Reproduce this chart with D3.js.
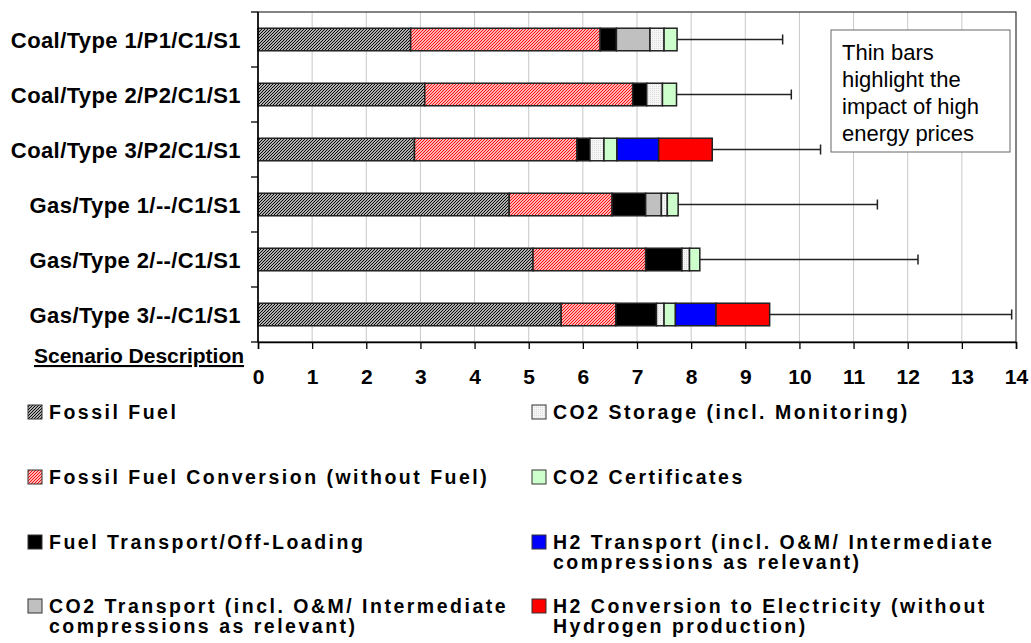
<!DOCTYPE html>
<html>
<head>
<meta charset="utf-8">
<script src="https://cdn.jsdelivr.net/npm/d3@7"></script>
<style>
    body { margin: 0; background: #fff; }
    text { font-family: "Liberation Sans", Arial, sans-serif; }
</style>
</head>
<body>
<script>
/* global d3 */

var width = 1031;
var height = 643;

// scenarios, top to bottom
var categories = ["Coal/Type 1/P1/C1/S1", "Coal/Type 2/P2/C1/S1", "Coal/Type 3/P2/C1/S1",
    "Gas/Type 1/--/C1/S1", "Gas/Type 2/--/C1/S1", "Gas/Type 3/--/C1/S1"];

// cost components
var fossilFuel = [2.82, 3.08, 2.89, 4.64, 5.08, 5.60];
var fuelConversion = [3.50, 3.84, 3.00, 1.90, 2.08, 1.01];
var fuelTransport = [0.30, 0.26, 0.24, 0.62, 0.67, 0.75];
var co2Transport = [0.62, 0, 0, 0.29, 0, 0];
var co2Storage = [0.26, 0.29, 0.26, 0.11, 0.14, 0.14];
var co2Certificates = [0.24, 0.26, 0.24, 0.20, 0.19, 0.21];
var h2Transport = [0, 0, 0.77, 0, 0, 0.75];
var h2Conversion = [0, 0, 0.99, 0, 0, 0.99];

// thin bars: total with high energy prices
var highPriceTotal = [9.69, 9.85, 10.39, 11.44, 12.19, 13.92];

var xTicks = [0, 1, 2, 3, 4, 5, 6, 7, 8, 9, 10, 11, 12, 13, 14];

var seriesKeys = ["fossil", "conv", "ftrans", "co2t", "co2s", "co2c", "h2t", "h2c"];
var seriesValues = [fossilFuel, fuelConversion, fuelTransport, co2Transport,
    co2Storage, co2Certificates, h2Transport, h2Conversion];
var seriesFill = ["url(#pFossil)", "url(#pConv)", "#000000", "#c0c0c0",
    "url(#pStorage)", "#ccffcc", "#0000ff", "#ff0000"];

var legendLabels = [
    ["Fossil Fuel"],
    ["Fossil Fuel Conversion (without Fuel)"],
    ["Fuel Transport/Off-Loading"],
    ["CO2 Transport (incl. O&M/ Intermediate", "compressions as relevant)"],
    ["CO2 Storage (incl. Monitoring)"],
    ["CO2 Certificates"],
    ["H2 Transport (incl. O&M/ Intermediate", "compressions as relevant)"],
    ["H2 Conversion to Electricity (without", "Hydrogen production)"]
];

var noteLines = ["Thin bars", "highlight the", "impact of high", "energy prices"];

var margin = {top: 12, right: 15, bottom: 301, left: 258};
var plotW = width - margin.left - margin.right,
        plotH = height - margin.top - margin.bottom;

var svg = d3.select("body")
        .append("svg")
        .attr("width", width)
        .attr("height", height);

// fill patterns
var defs = svg.append("defs");
var p1 = defs.append("pattern").attr("id", "pFossil")
        .attr("patternUnits", "userSpaceOnUse").attr("width", 3).attr("height", 3);
p1.append("rect").attr("width", 3).attr("height", 3).attr("fill", "#fff");
p1.append("path").attr("d", "M-1,1 l2,-2 M0,3 l3,-3 M2,4 l2,-2")
        .attr("stroke", "#000").attr("stroke-width", 1.2);
var p2 = defs.append("pattern").attr("id", "pConv")
        .attr("patternUnits", "userSpaceOnUse").attr("width", 3).attr("height", 3);
p2.append("rect").attr("width", 3).attr("height", 3).attr("fill", "#fff");
p2.append("path").attr("d", "M-1,1 l2,-2 M0,3 l3,-3 M2,4 l2,-2")
        .attr("stroke", "#ff0000").attr("stroke-width", 1.1);
var p3 = defs.append("pattern").attr("id", "pStorage")
        .attr("patternUnits", "userSpaceOnUse").attr("width", 2).attr("height", 2);
p3.append("rect").attr("width", 2).attr("height", 2).attr("fill", "#f6f6f6");
p3.append("rect").attr("width", 1).attr("height", 1).attr("fill", "#dcdcdc");

var x = d3.scaleLinear().domain([0, 14]).range([0, plotW]);
var y = d3.scaleBand().domain(categories).range([0, plotH])
        .paddingInner(0.59).paddingOuter(0.295);

var table = categories.map(function (c, i) {
    var row = {cat: c};
    seriesKeys.forEach(function (k, j) {
        row[k] = seriesValues[j][i];
    });
    return row;
});
var stacked = d3.stack().keys(seriesKeys)(table);

var g = svg.append("g")
        .attr("transform", "translate(" + margin.left + "," + margin.top + ")");

// vertical grid
g.selectAll(".grid")
        .data(xTicks.slice(1, -1))
        .enter().append("line")
        .attr("x1", function (d) { return x(d); })
        .attr("x2", function (d) { return x(d); })
        .attr("y1", 0)
        .attr("y2", plotH)
        .attr("stroke", "#c8c8c8")
        .attr("stroke-width", 1);

// frame
g.append("rect")
        .attr("width", plotW)
        .attr("height", plotH)
        .attr("fill", "none")
        .attr("stroke", "#333")
        .attr("stroke-width", 1.2);

// error bars (high prices)
var err = g.selectAll(".err")
        .data(categories)
        .enter().append("g");
err.append("line")
        .attr("x1", function (d, i) { return x(d3.sum(seriesValues, function (s) { return s[i]; })); })
        .attr("x2", function (d, i) { return x(highPriceTotal[i]); })
        .attr("y1", function (d) { return y(d) + y.bandwidth() / 2; })
        .attr("y2", function (d) { return y(d) + y.bandwidth() / 2; })
        .attr("stroke", "#222").attr("stroke-width", 1.5);
err.append("line")
        .attr("x1", function (d, i) { return x(highPriceTotal[i]); })
        .attr("x2", function (d, i) { return x(highPriceTotal[i]); })
        .attr("y1", function (d) { return y(d) + y.bandwidth() / 2 - 5; })
        .attr("y2", function (d) { return y(d) + y.bandwidth() / 2 + 5; })
        .attr("stroke", "#222").attr("stroke-width", 1.5);

// stacked bars
g.selectAll(".series")
        .data(stacked)
        .enter().append("g")
        .attr("fill", function (d, i) { return seriesFill[i]; })
        .selectAll("rect")
        .data(function (d) { return d.filter(function (p) { return p[1] - p[0] > 0; }); })
        .enter().append("rect")
        .attr("x", function (d) { return x(d[0]); })
        .attr("y", function (d) { return y(d.data.cat); })
        .attr("width", function (d) { return x(d[1]) - x(d[0]); })
        .attr("height", y.bandwidth())
        .attr("stroke", "#222")
        .attr("stroke-width", 1.5);

// axes
var xAxis = d3.axisBottom(x).tickValues(xTicks).tickSize(7).tickPadding(20);
var gx = g.append("g")
        .attr("transform", "translate(0," + plotH + ")")
        .call(xAxis);
gx.select(".domain").attr("stroke", "#000").attr("stroke-width", 1.5);
gx.selectAll(".tick line").attr("stroke", "#000").attr("stroke-width", 1.3);
gx.selectAll(".tick text")
        .attr("fill", "#000")
        .style("font-size", "21px")
        .style("font-weight", "bold");

var bounds = d3.range(categories.length + 1).map(function (i) { return i * y.step(); });
g.append("line")
        .attr("x1", 0).attr("x2", 0).attr("y1", 0).attr("y2", plotH)
        .attr("stroke", "#000").attr("stroke-width", 1.5);
g.selectAll(".ytick")
        .data(bounds)
        .enter().append("line")
        .attr("x1", -7).attr("x2", 0)
        .attr("y1", function (d) { return d; })
        .attr("y2", function (d) { return d; })
        .attr("stroke", "#000").attr("stroke-width", 1.3);

g.selectAll(".ylab")
        .data(categories)
        .enter().append("text")
        .attr("x", -17)
        .attr("y", function (d) { return y(d) + y.bandwidth() / 2 + 8; })
        .attr("text-anchor", "end")
        .style("font-size", "22px")
        .style("font-weight", "bold")
        .style("letter-spacing", "0.4px")
        .text(function (d) { return d; });

svg.append("text")
        .attr("x", 34)
        .attr("y", 363)
        .style("font-size", "21px")
        .style("font-weight", "bold")
        .style("text-decoration", "underline")
        .text("Scenario Description");

// note box
svg.append("rect")
        .attr("x", 831).attr("y", 30).attr("width", 179).attr("height", 122)
        .attr("fill", "#fff").attr("stroke", "#666").attr("stroke-width", 1);
svg.append("text")
        .attr("x", 842).attr("y", 60)
        .style("font-size", "22px")
        .selectAll("tspan")
        .data(noteLines)
        .enter().append("tspan")
        .attr("x", 842)
        .attr("dy", function (d, i) { return i === 0 ? 0 : 27; })
        .text(function (d) { return d; });

// legend
var legendX = [28, 532];
var legendY = [419, 484, 549, 613];
var leg = svg.selectAll(".legend")
        .data(legendLabels)
        .enter().append("g")
        .attr("transform", function (d, i) {
            return "translate(" + legendX[Math.floor(i / 4)] + "," + legendY[i % 4] + ")";
        });
leg.append("rect")
        .attr("x", 0).attr("y", -14)
        .attr("width", 14).attr("height", 14)
        .attr("fill", function (d, i) { return seriesFill[i]; })
        .attr("stroke", "#333").attr("stroke-width", 1);
leg.append("text")
        .style("font-size", "19.5px")
        .style("font-weight", "bold")
        .style("letter-spacing", "2.5px")
        .selectAll("tspan")
        .data(function (d) { return d; })
        .enter().append("tspan")
        .attr("x", 21)
        .attr("y", function (d, i) { return i * 20; })
        .text(function (d) { return d; });
</script>
</body>
</html>
